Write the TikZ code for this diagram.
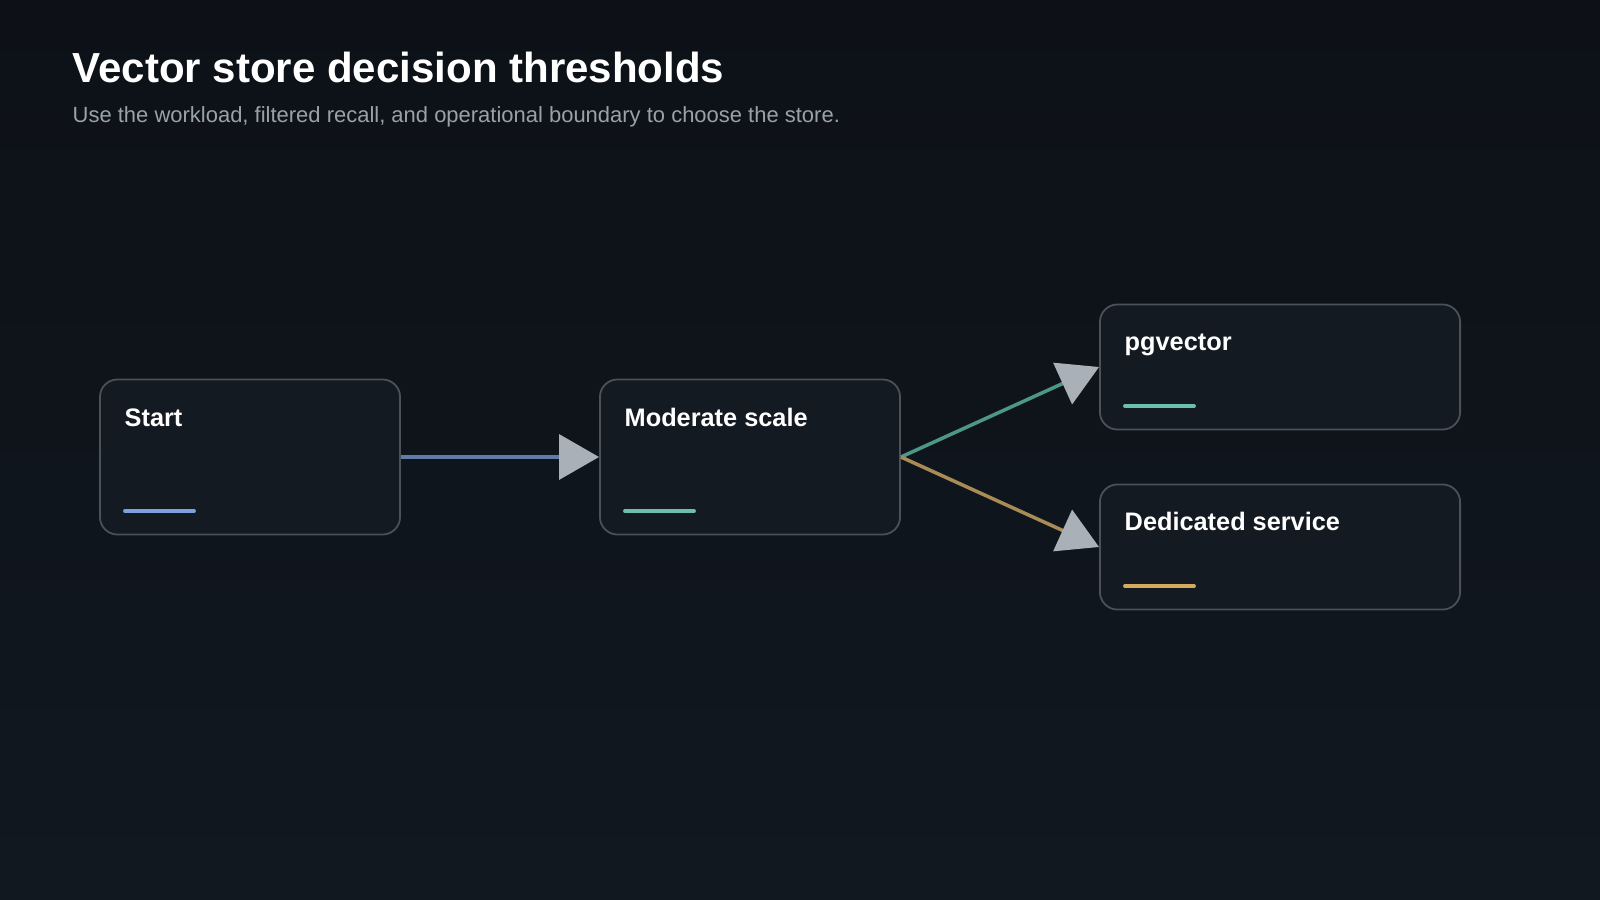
\documentclass[tikz,border=0pt]{standalone}
\usepackage{fontspec}
\setmainfont{Liberation Sans}
\usetikzlibrary{arrows.meta}
\definecolor{bgdark}{HTML}{0D1117}
\definecolor{bgmid}{HTML}{111820}
\definecolor{boxfill}{HTML}{141A21}
\definecolor{boxline}{HTML}{4A5159}
\definecolor{headgray}{HTML}{A9B0B8}
\definecolor{subgray}{HTML}{9AA1A9}
\definecolor{cblue}{HTML}{7E9FE0}
\definecolor{cteal}{HTML}{6DBFAD}
\definecolor{cgold}{HTML}{D6AA5C}
\definecolor{lblue}{HTML}{5E7BAA}
\definecolor{lteal}{HTML}{4F968A}
\definecolor{lgold}{HTML}{A98B56}
\tikzset{
  card/.style={draw=boxline,fill=boxfill,line width=0.5pt,rounded corners=5pt},
  cardtitle/.style={anchor=base west,inner sep=0pt,text=white,font=\fontsize{7.2}{8}\selectfont\bfseries},
  bar/.style={line width=1.1pt,line cap=round},
  flow/.style={line width=1pt,-{Triangle[length=0.4cm,width=0.45cm,fill=headgray,color=headgray]}}
}
\begin{document}
\begin{tikzpicture}[x=0.01cm,y=-0.01cm]
	\useasboundingbox (0,0) rectangle (1600,900);
	\shade[top color=bgdark,bottom color=bgmid] (0,0) rectangle (1600,900);

	\node[anchor=base west,inner sep=0pt,text=white,font=\fontsize{11.95}{14}\selectfont\bfseries] (title) at (72,82) {Vector store decision thresholds};
	\node[anchor=base west,inner sep=0pt,text=subgray,font=\fontsize{6.25}{7}\selectfont] (subtitle) at (72,122) {Use the workload, filtered recall, and operational boundary to choose the store.};

	\node[card,minimum width=3cm,minimum height=1.55cm] (start) at (250,457) {};
	\node[card,minimum width=3cm,minimum height=1.55cm] (moderate) at (750,457) {};
	\node[card,minimum width=3.6cm,minimum height=1.25cm] (pgvector) at (1280,367) {};
	\node[card,minimum width=3.6cm,minimum height=1.25cm] (dedicated) at (1280,547) {};

	\node[cardtitle] (tstart) at (124,426) {Start};
	\node[cardtitle] (tmoderate) at (624,426) {Moderate scale};
	\node[cardtitle] (tpg) at (1124,350) {pgvector};
	\node[cardtitle] (tded) at (1124,530) {Dedicated service};

	\draw[bar,cblue] (125,511) -- (194,511);
	\draw[bar,cteal] (625,511) -- (694,511);
	\draw[bar,cteal] (1125,406) -- (1194,406);
	\draw[bar,cgold] (1125,586) -- (1194,586);

	\draw[flow,lblue] (start.east) -- (moderate.west);
	\draw[flow,lteal] (moderate.east) -- (pgvector.west);
	\draw[flow,lgold] (moderate.east) -- (dedicated.west);
\end{tikzpicture}
\end{document}
